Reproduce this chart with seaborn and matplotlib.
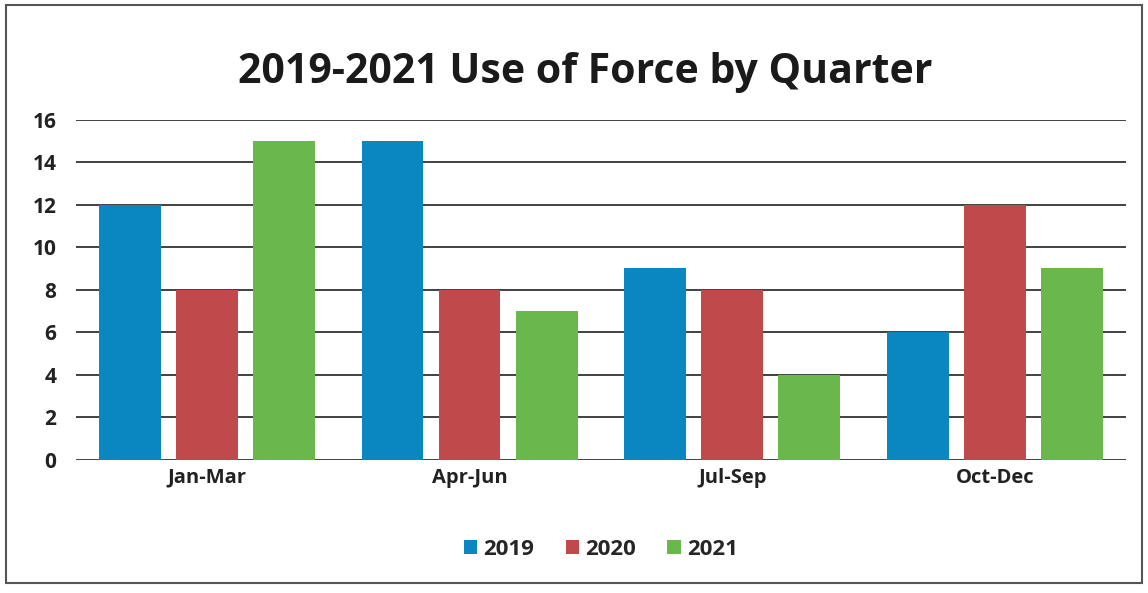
import matplotlib
matplotlib.use("Agg")
import matplotlib.pyplot as plt
import seaborn as sns
import pandas as pd
from matplotlib.patches import Rectangle

quarters = ["Jan-Mar", "Apr-Jun", "Jul-Sep", "Oct-Dec"]
years = ["2019", "2020", "2021"]
v2019 = [12, 15, 9, 6]
v2020 = [8, 8, 8, 12]
v2021 = [15, 7, 4, 9]
yticks = [0, 2, 4, 6, 8, 10, 12, 14, 16]

rows = []
for y, vals in zip(years, [v2019, v2020, v2021]):
    for q, v in zip(quarters, vals):
        rows.append({"Quarter": q, "Year": y, "Value": v})
df = pd.DataFrame(rows)

sns.set_theme(style="white")
plt.rcParams["font.family"] = ["Open Sans", "DejaVu Sans"]

fig = plt.figure(figsize=(11.48, 5.93), dpi=100)
ax = fig.add_axes([0.066, 0.225, 0.915, 0.573])
palette = {"2019": "#0a86c0", "2020": "#c0494b", "2021": "#6ab84c"}
sns.barplot(data=df, x="Quarter", y="Value", hue="Year", palette=palette,
            width=0.88, gap=0.2, saturation=1, ax=ax, zorder=3, legend=True,
            linewidth=0, edgecolor="none")

ax.set_ylim(0, 16)
ax.set_yticks(yticks)
ax.set_yticklabels([str(t) for t in yticks], fontsize=15, fontweight="bold", color="#222222")
ax.set_xticks(range(len(quarters)))
ax.set_xticklabels(quarters, fontsize=14.5, fontweight="bold", color="#222222")
ax.set_xlabel("")
ax.set_ylabel("")
ax.tick_params(axis="y", pad=14, length=0)
ax.tick_params(axis="x", pad=6, length=0)
for t in yticks:
    ax.axhline(t, color="#333333", lw=1.3, zorder=1)
for s in ax.spines.values():
    s.set_visible(False)

ax.legend(loc="upper center", bbox_to_anchor=(0.5, -0.175), ncol=3, frameon=False,
          prop={"size": 16, "weight": "bold"}, handlelength=0.6, handleheight=0.6,
          handletextpad=0.3, columnspacing=1.4)

fig.text(0.51, 0.878, "2019-2021 Use of Force by Quarter", ha="center", va="center",
         fontsize=29.5, fontweight="bold", color="#1a1a1a")

fig.patches.append(Rectangle((0.005, 0.017), 0.99, 0.975, transform=fig.transFigure,
                             fill=False, edgecolor="#555555", lw=1.5))

fig.savefig("out.png", dpi=100)
